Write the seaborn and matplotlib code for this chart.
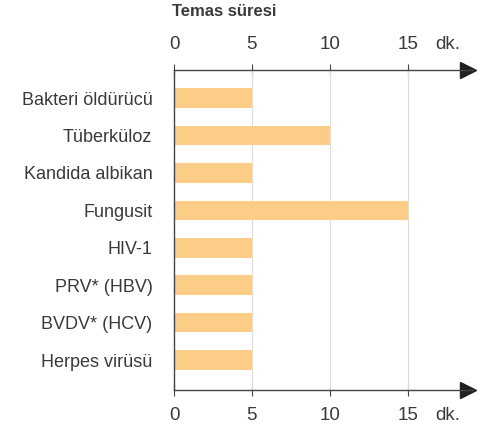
import matplotlib
matplotlib.use("Agg")
import matplotlib.pyplot as plt
import matplotlib.transforms as mtrans
import seaborn as sns
import pandas as pd

# Data
categories = ["Bakteri öldürücü", "Tüberküloz", "Kandida albikan", "Fungusit",
              "HIV-1", "PRV* (HBV)", "BVDV* (HCV)", "Herpes virüsü"]
minutes = [5, 10, 5, 15, 5, 5, 5, 5]
ticks = [0, 5, 10, 15]
tick_labels = ["0", "5", "10", "15"]
title = "Temas süresi"
unit = "dk."

BAR = "#FBCD86"
TXT = "#3a3a3a"

sns.set_style("white")
plt.rcParams['font.family'] = ['Liberation Sans', 'DejaVu Sans']

df = pd.DataFrame({"cat": categories, "min": minutes})

fig = plt.figure(figsize=(4.86, 4.32), dpi=100)
ax = fig.add_axes([174 / 486, 1 - 390 / 432, (473 - 174) / 486, (390 - 70) / 432])

sns.barplot(data=df, x="min", y="cat", color=BAR, width=0.52, ax=ax,
            saturation=1, edgecolor="none", zorder=2)

ax.set_xlim(0, 19.2)
ax.set_ylim(7.8, -0.75)

# light vertical grid lines
for t in ticks[1:]:
    ax.axvline(t, color="#dcdcdc", lw=0.8, zorder=1)

for side in ["top", "bottom", "left"]:
    ax.spines[side].set_color("#444444")
    ax.spines[side].set_linewidth(1.0)
ax.spines["right"].set_visible(False)

# arrow heads on both horizontal axes
shift = mtrans.ScaledTranslation(-5 / 100, 0, fig.dpi_scale_trans)
ax.plot([1, 1], [0, 1], marker=">", ms=11, color="#222222", ls="none",
        transform=ax.transAxes + shift, clip_on=False)

# unit "dk." as an extra tick label without a tick mark
ax.set_xticks(ticks + [17.6])
ax.set_xticklabels(tick_labels + [unit])
ax.tick_params(axis="x", top=True, labeltop=True, bottom=True, labelbottom=True,
               direction="inout", length=8, width=0.8, color="#444444",
               labelsize=13.5, labelcolor=TXT, pad=8)
last = ax.xaxis.get_major_ticks()[-1]
last.tick1line.set_visible(False)
last.tick2line.set_visible(False)

ax.tick_params(axis="y", left=False, labelsize=13, labelcolor=TXT, pad=12)
ax.set_xlabel("")
ax.set_ylabel("")

fig.text(172 / 486, 1 - 4 / 432, title, ha="left", va="top", fontsize=12,
         fontweight="bold", color=TXT)

fig.savefig("out.png", dpi=100, facecolor="white")
